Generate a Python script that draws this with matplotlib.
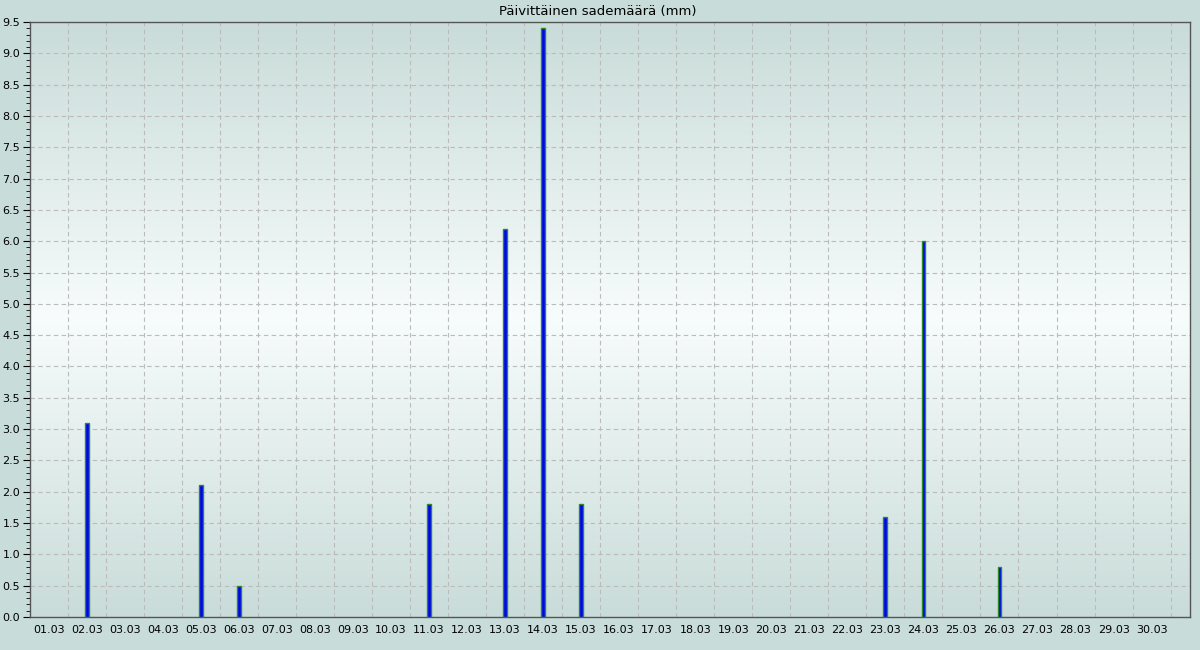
import numpy as np
import matplotlib.pyplot as plt
from matplotlib.colors import LinearSegmentedColormap
from matplotlib.ticker import MultipleLocator, FixedLocator

# daily rainfall, March
days = list(range(1, 31))
labels = ["%02d.03" % d for d in days]
rain_days = [2, 5, 6, 11, 13, 14, 15, 23, 24, 26]
rain_mm = [3.1, 2.1, 0.5, 1.8, 6.2, 9.4, 1.8, 1.6, 6.0, 0.8]

fig = plt.figure(figsize=(12, 6.5), dpi=100, facecolor="#c8dcd9")
ax = fig.add_axes([0.025, 0.051, 0.967, 0.915])

# vertical gradient background
cmap = LinearSegmentedColormap.from_list(
    "bg", ["#c9dcd9", "#f7fcfc", "#c9dcd9"])
grad = np.linspace(0, 1, 256).reshape(-1, 1)
ax.imshow(grad, cmap=cmap, aspect="auto", extent=[0.5, 31.0, 0, 9.5],
          origin="lower", zorder=0)

ax.bar(rain_days, rain_mm, width=0.1, color="#0000ff",
       edgecolor="#2a8a2a", linewidth=1.0, zorder=3)

ax.set_xlim(0.51, 31.02)
ax.set_ylim(0, 9.5)

ax.set_xticks(days)
ax.set_xticklabels(labels, fontsize=8)
ax.xaxis.set_minor_locator(FixedLocator(np.arange(1.5, 31, 1)))
ax.tick_params(axis="x", which="both", length=0, pad=6)

ax.yaxis.set_major_locator(MultipleLocator(0.5))
ax.yaxis.set_minor_locator(MultipleLocator(0.1))
ax.yaxis.set_major_formatter(plt.FormatStrFormatter("%.1f"))
ax.tick_params(axis="y", which="major", length=5, labelsize=8, pad=2)
ax.tick_params(axis="y", which="minor", length=3)

ax.grid(True, axis="y", which="major", color="#bbbbbb", linestyle=(0, (4, 3)), lw=0.8)
ax.grid(True, axis="x", which="minor", color="#bbbbbb", linestyle=(0, (4, 3)), lw=0.8)
ax.grid(False, axis="x", which="major")
ax.set_axisbelow(True)

for s in ax.spines.values():
    s.set_color("#555555")
    s.set_linewidth(1.0)

fig.text(0.4985, 0.982, "Päivittäinen sademäärä (mm)", fontsize=9.5,
         ha="center", va="center")

fig.savefig("out.png", dpi=100, facecolor=fig.get_facecolor())
